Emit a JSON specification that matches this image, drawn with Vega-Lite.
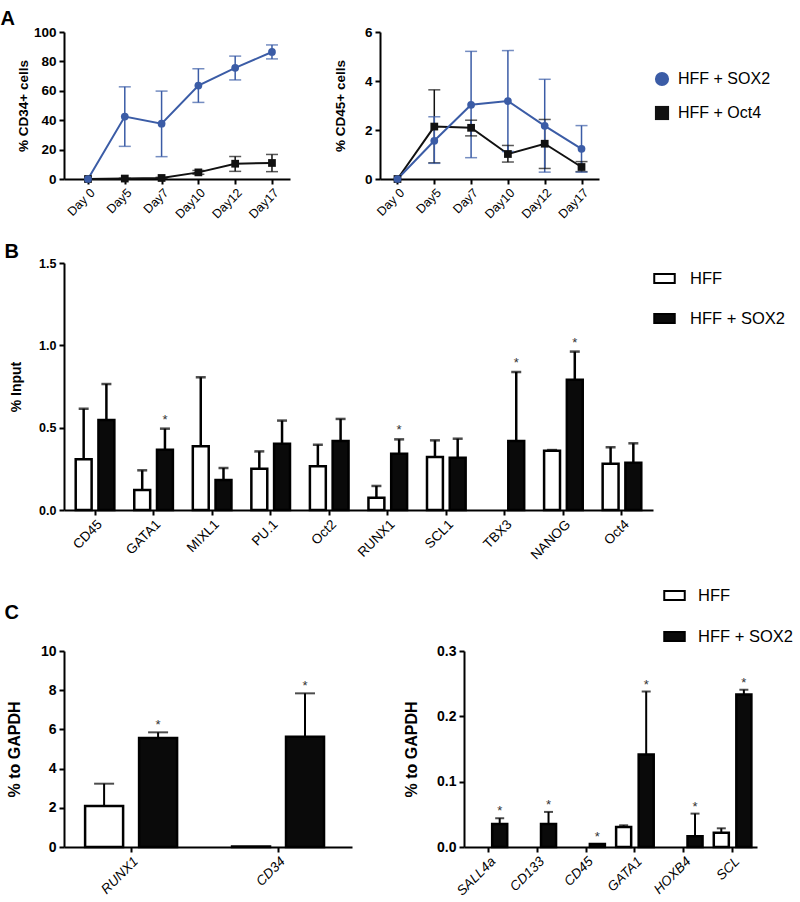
{
"$schema": "https://vega.github.io/schema/vega-lite/v6.json",
"background": "white",
"padding": {"left": 0, "top": 9, "right": 5, "bottom": 5},
"config": {
  "font": "Liberation Sans",
  "view": {"stroke": null},
  "legend": {"labelColor": "black", "labelFontSize": 16.5, "padding": 0, "title": null}
},
"datasets": {
  "A": [
    {"panel": "CD34", "series": "HFF + Oct4", "day": "Day 0", "mean": 0, "lo": null, "hi": null},
    {"panel": "CD34", "series": "HFF + Oct4", "day": "Day5", "mean": 0.3, "lo": 0.1, "hi": 0.5},
    {"panel": "CD34", "series": "HFF + Oct4", "day": "Day7", "mean": 0.7, "lo": 0.3, "hi": 1.1},
    {"panel": "CD34", "series": "HFF + Oct4", "day": "Day10", "mean": 4.5, "lo": 3.2, "hi": 5.8},
    {"panel": "CD34", "series": "HFF + Oct4", "day": "Day12", "mean": 10.4, "lo": 5.2, "hi": 15.3},
    {"panel": "CD34", "series": "HFF + Oct4", "day": "Day17", "mean": 10.9, "lo": 5.0, "hi": 16.7},
    {"panel": "CD34", "series": "HFF + SOX2", "day": "Day 0", "mean": 0, "lo": null, "hi": null},
    {"panel": "CD34", "series": "HFF + SOX2", "day": "Day5", "mean": 42.5, "lo": 22.2, "hi": 62.7},
    {"panel": "CD34", "series": "HFF + SOX2", "day": "Day7", "mean": 37.6, "lo": 15.2, "hi": 59.8},
    {"panel": "CD34", "series": "HFF + SOX2", "day": "Day10", "mean": 63.6, "lo": 52.1, "hi": 75.0},
    {"panel": "CD34", "series": "HFF + SOX2", "day": "Day12", "mean": 75.6, "lo": 67.4, "hi": 83.6},
    {"panel": "CD34", "series": "HFF + SOX2", "day": "Day17", "mean": 86.4, "lo": 81.7, "hi": 91.2},
    {"panel": "CD45", "series": "HFF + Oct4", "day": "Day 0", "mean": 0, "lo": null, "hi": null},
    {"panel": "CD45", "series": "HFF + Oct4", "day": "Day5", "mean": 2.14, "lo": 0.66, "hi": 3.64},
    {"panel": "CD45", "series": "HFF + Oct4", "day": "Day7", "mean": 2.09, "lo": 1.76, "hi": 2.40},
    {"panel": "CD45", "series": "HFF + Oct4", "day": "Day10", "mean": 1.02, "lo": 0.69, "hi": 1.37},
    {"panel": "CD45", "series": "HFF + Oct4", "day": "Day12", "mean": 1.44, "lo": 0.43, "hi": 2.43},
    {"panel": "CD45", "series": "HFF + Oct4", "day": "Day17", "mean": 0.49, "lo": 0.30, "hi": 0.71},
    {"panel": "CD45", "series": "HFF + SOX2", "day": "Day 0", "mean": 0, "lo": null, "hi": null},
    {"panel": "CD45", "series": "HFF + SOX2", "day": "Day5", "mean": 1.56, "lo": 0.64, "hi": 2.54},
    {"panel": "CD45", "series": "HFF + SOX2", "day": "Day7", "mean": 3.03, "lo": 0.87, "hi": 5.21},
    {"panel": "CD45", "series": "HFF + SOX2", "day": "Day10", "mean": 3.18, "lo": 1.12, "hi": 5.24},
    {"panel": "CD45", "series": "HFF + SOX2", "day": "Day12", "mean": 2.17, "lo": 0.28, "hi": 4.07},
    {"panel": "CD45", "series": "HFF + SOX2", "day": "Day17", "mean": 1.23, "lo": 0.28, "hi": 2.18}
  ],
  "B": [
    {"gene": "CD45", "group": "HFF", "mean": 0.308, "hi": 0.615, "sig": ""},
    {"gene": "CD45", "group": "HFF + SOX2", "mean": 0.547, "hi": 0.765, "sig": ""},
    {"gene": "GATA1", "group": "HFF", "mean": 0.121, "hi": 0.241, "sig": ""},
    {"gene": "GATA1", "group": "HFF + SOX2", "mean": 0.366, "hi": 0.494, "sig": "*"},
    {"gene": "MIXL1", "group": "HFF", "mean": 0.387, "hi": 0.806, "sig": ""},
    {"gene": "MIXL1", "group": "HFF + SOX2", "mean": 0.182, "hi": 0.255, "sig": ""},
    {"gene": "PU.1", "group": "HFF", "mean": 0.251, "hi": 0.356, "sig": ""},
    {"gene": "PU.1", "group": "HFF + SOX2", "mean": 0.403, "hi": 0.543, "sig": ""},
    {"gene": "Oct2", "group": "HFF", "mean": 0.265, "hi": 0.397, "sig": ""},
    {"gene": "Oct2", "group": "HFF + SOX2", "mean": 0.419, "hi": 0.553, "sig": ""},
    {"gene": "RUNX1", "group": "HFF", "mean": 0.075, "hi": 0.146, "sig": ""},
    {"gene": "RUNX1", "group": "HFF + SOX2", "mean": 0.342, "hi": 0.429, "sig": "*"},
    {"gene": "SCL1", "group": "HFF", "mean": 0.322, "hi": 0.423, "sig": ""},
    {"gene": "SCL1", "group": "HFF + SOX2", "mean": 0.318, "hi": 0.433, "sig": ""},
    {"gene": "TBX3", "group": "HFF + SOX2", "mean": 0.419, "hi": 0.838, "sig": "*"},
    {"gene": "NANOG", "group": "HFF", "mean": 0.360, "hi": 0.364, "sig": ""},
    {"gene": "NANOG", "group": "HFF + SOX2", "mean": 0.791, "hi": 0.962, "sig": "*"},
    {"gene": "Oct4", "group": "HFF", "mean": 0.281, "hi": 0.381, "sig": ""},
    {"gene": "Oct4", "group": "HFF + SOX2", "mean": 0.287, "hi": 0.405, "sig": ""}
  ],
  "C1": [
    {"gene": "RUNX1", "group": "HFF", "mean": 2.09, "hi": 3.23, "sig": ""},
    {"gene": "RUNX1", "group": "HFF + SOX2", "mean": 5.56, "hi": 5.85, "sig": "*"},
    {"gene": "CD34", "group": "HFF", "mean": 0.03, "hi": null, "sig": ""},
    {"gene": "CD34", "group": "HFF + SOX2", "mean": 5.63, "hi": 7.84, "sig": "*"}
  ],
  "C2": [
    {"gene": "SALL4a", "group": "HFF + SOX2", "mean": 0.0353, "hi": 0.044, "sig": "*"},
    {"gene": "CD133", "group": "HFF + SOX2", "mean": 0.0353, "hi": 0.0537, "sig": "*"},
    {"gene": "CD45", "group": "HFF + SOX2", "mean": 0.0046, "hi": 0.0046, "sig": "*"},
    {"gene": "GATA1", "group": "HFF", "mean": 0.0307, "hi": 0.0332, "sig": ""},
    {"gene": "GATA1", "group": "HFF + SOX2", "mean": 0.1416, "hi": 0.238, "sig": "*"},
    {"gene": "HOXB4", "group": "HFF + SOX2", "mean": 0.0164, "hi": 0.0511, "sig": "*"},
    {"gene": "SCL", "group": "HFF", "mean": 0.022, "hi": 0.0286, "sig": ""},
    {"gene": "SCL", "group": "HFF + SOX2", "mean": 0.2336, "hi": 0.2407, "sig": "*"}
  ]
},
"resolve": {"scale": {"fill": "independent", "color": "independent", "shape": "independent", "xOffset": "independent"}, "legend": {"fill": "independent", "color": "independent", "shape": "independent"}},
"spacing": 21,
"align": "none",
"vconcat": [
  {
    "title": {"text": "A", "dx": -16, "offset": -4, "fontSize": 20, "fontWeight": "bold", "anchor": "start", "color": "black", "font": "Liberation Sans"},
    "spacing": 43,
    "resolve": {"scale": {"fill": "independent", "color": "independent", "shape": "independent"}, "legend": {"fill": "independent", "color": "independent", "shape": "independent"}},
    "hconcat": [
      {
        "width": 226, "height": 147,
        "data": {"name": "A"},
        "transform": [{"filter": "datum.panel == 'CD34'"}],
        "encoding": {"x": {"field": "day", "type": "ordinal", "sort": null, "scale": {"type": "point", "padding": 0.571, "align": 0.571},
          "axis": {"title": null, "labelAngle": -45, "labelFontWeight": "normal", "labelFontSize": 12.5, "labelColor": "black", "domainColor": "black", "domainWidth": 2, "tickColor": "black", "tickWidth": 2, "tickSize": 5, "labelPadding": 2, "labelOverlap": false, "grid": false}}},
        "layer": [
          {"mark": {"type": "line", "strokeWidth": 2},
           "encoding": {"y": {"field": "mean", "type": "quantitative", "title": "% CD34+ cells", "scale": {"domain": [0, 100], "nice": false},
              "axis": {"values": [0, 20, 40, 60, 80, 100], "titlePadding": 3, "labelFontSize": 13.5, "labelFontWeight": "bold", "titleFontSize": 13.5, "titleFontWeight": "bold", "labelColor": "black", "titleColor": "black", "domainColor": "black", "domainWidth": 2, "tickColor": "black", "tickWidth": 2, "tickSize": 5, "labelPadding": 3, "labelOverlap": false, "labelFlush": false, "grid": false}},
                        "color": {"field": "series", "type": "nominal", "scale": {"domain": ["HFF + SOX2", "HFF + Oct4"], "range": ["#3B5CA6", "#111111"]}, "legend": null}}},
          {"mark": {"type": "rule", "strokeWidth": 1.5},
           "encoding": {"y": {"field": "lo", "type": "quantitative", "title": "% CD34+ cells",
              "axis": {"values": [0, 20, 40, 60, 80, 100], "titlePadding": 3, "labelFontSize": 13.5, "labelFontWeight": "bold", "titleFontSize": 13.5, "titleFontWeight": "bold", "labelColor": "black", "titleColor": "black", "domainColor": "black", "domainWidth": 2, "tickColor": "black", "tickWidth": 2, "tickSize": 5, "labelPadding": 3, "labelOverlap": false, "labelFlush": false, "grid": false}}, "y2": {"field": "hi"},
                        "color": {"field": "series", "type": "nominal", "legend": null}}},
          {"mark": {"type": "tick", "thickness": 1.5, "size": 12},
           "encoding": {"y": {"field": "lo", "type": "quantitative", "title": "% CD34+ cells",
              "axis": {"values": [0, 20, 40, 60, 80, 100], "titlePadding": 3, "labelFontSize": 13.5, "labelFontWeight": "bold", "titleFontSize": 13.5, "titleFontWeight": "bold", "labelColor": "black", "titleColor": "black", "domainColor": "black", "domainWidth": 2, "tickColor": "black", "tickWidth": 2, "tickSize": 5, "labelPadding": 3, "labelOverlap": false, "labelFlush": false, "grid": false}}, "color": {"field": "series", "type": "nominal", "legend": null}}},
          {"mark": {"type": "tick", "thickness": 1.5, "size": 12},
           "encoding": {"y": {"field": "hi", "type": "quantitative", "title": "% CD34+ cells",
              "axis": {"values": [0, 20, 40, 60, 80, 100], "titlePadding": 3, "labelFontSize": 13.5, "labelFontWeight": "bold", "titleFontSize": 13.5, "titleFontWeight": "bold", "labelColor": "black", "titleColor": "black", "domainColor": "black", "domainWidth": 2, "tickColor": "black", "tickWidth": 2, "tickSize": 5, "labelPadding": 3, "labelOverlap": false, "labelFlush": false, "grid": false}}, "color": {"field": "series", "type": "nominal", "legend": null}}},
          {"mark": {"type": "point", "filled": true, "opacity": 1, "size": 60},
           "encoding": {"y": {"field": "mean", "type": "quantitative", "title": "% CD34+ cells",
              "axis": {"values": [0, 20, 40, 60, 80, 100], "titlePadding": 3, "labelFontSize": 13.5, "labelFontWeight": "bold", "titleFontSize": 13.5, "titleFontWeight": "bold", "labelColor": "black", "titleColor": "black", "domainColor": "black", "domainWidth": 2, "tickColor": "black", "tickWidth": 2, "tickSize": 5, "labelPadding": 3, "labelOverlap": false, "labelFlush": false, "grid": false}},
                        "fill": {"field": "series", "type": "nominal", "scale": {"domain": ["HFF + SOX2", "HFF + Oct4"], "range": ["#3B5CA6", "#111111"]}, "legend": null},
                        "shape": {"field": "series", "type": "nominal", "scale": {"domain": ["HFF + SOX2", "HFF + Oct4"], "range": ["circle", "square"]}, "legend": null}}}
        ]
      },
      {
        "width": 219, "height": 147,
        "data": {"name": "A"},
        "transform": [{"filter": "datum.panel == 'CD45'"}],
        "encoding": {"x": {"field": "day", "type": "ordinal", "sort": null, "scale": {"type": "point", "padding": 0.475},
          "axis": {"title": null, "labelAngle": -45, "labelFontWeight": "normal", "labelFontSize": 12.5, "labelColor": "black", "domainColor": "black", "domainWidth": 2, "tickColor": "black", "tickWidth": 2, "tickSize": 5, "labelPadding": 2, "labelOverlap": false, "grid": false}}},
        "layer": [
          {"mark": {"type": "line", "strokeWidth": 2},
           "encoding": {"y": {"field": "mean", "type": "quantitative", "title": "% CD45+ cells", "scale": {"domain": [0, 6], "nice": false},
              "axis": {"values": [0, 2, 4, 6], "titlePadding": 17, "labelFontSize": 13.5, "labelFontWeight": "bold", "titleFontSize": 13.5, "titleFontWeight": "bold", "labelColor": "black", "titleColor": "black", "domainColor": "black", "domainWidth": 2, "tickColor": "black", "tickWidth": 2, "tickSize": 5, "labelPadding": 3, "labelOverlap": false, "labelFlush": false, "grid": false}},
                        "color": {"field": "series", "type": "nominal", "scale": {"domain": ["HFF + SOX2", "HFF + Oct4"], "range": ["#3B5CA6", "#111111"]},
                                  "legend": {"orient": "none", "legendX": 274, "legendY": 39, "labelFontSize": 16, "symbolSize": 200, "rowPadding": 18, "labelOffset": 8, "symbolStrokeWidth": 0, "symbolOpacity": 1, "title": null, "labelColor": "black", "encode": {"symbols": {"update": {"opacity": {"value": 1}, "fillOpacity": {"value": 1}}}}}}}},
          {"mark": {"type": "rule", "strokeWidth": 1.5},
           "encoding": {"y": {"field": "lo", "type": "quantitative", "title": "% CD45+ cells",
              "axis": {"values": [0, 2, 4, 6], "titlePadding": 17, "labelFontSize": 13.5, "labelFontWeight": "bold", "titleFontSize": 13.5, "titleFontWeight": "bold", "labelColor": "black", "titleColor": "black", "domainColor": "black", "domainWidth": 2, "tickColor": "black", "tickWidth": 2, "tickSize": 5, "labelPadding": 3, "labelOverlap": false, "labelFlush": false, "grid": false}}, "y2": {"field": "hi"},
                        "color": {"field": "series", "type": "nominal"}}},
          {"mark": {"type": "tick", "thickness": 1.5, "size": 12},
           "encoding": {"y": {"field": "lo", "type": "quantitative", "title": "% CD45+ cells",
              "axis": {"values": [0, 2, 4, 6], "titlePadding": 17, "labelFontSize": 13.5, "labelFontWeight": "bold", "titleFontSize": 13.5, "titleFontWeight": "bold", "labelColor": "black", "titleColor": "black", "domainColor": "black", "domainWidth": 2, "tickColor": "black", "tickWidth": 2, "tickSize": 5, "labelPadding": 3, "labelOverlap": false, "labelFlush": false, "grid": false}}, "color": {"field": "series", "type": "nominal"}}},
          {"mark": {"type": "tick", "thickness": 1.5, "size": 12},
           "encoding": {"y": {"field": "hi", "type": "quantitative", "title": "% CD45+ cells",
              "axis": {"values": [0, 2, 4, 6], "titlePadding": 17, "labelFontSize": 13.5, "labelFontWeight": "bold", "titleFontSize": 13.5, "titleFontWeight": "bold", "labelColor": "black", "titleColor": "black", "domainColor": "black", "domainWidth": 2, "tickColor": "black", "tickWidth": 2, "tickSize": 5, "labelPadding": 3, "labelOverlap": false, "labelFlush": false, "grid": false}}, "color": {"field": "series", "type": "nominal"}}},
          {"mark": {"type": "point", "filled": true, "opacity": 1, "size": 60},
           "encoding": {"y": {"field": "mean", "type": "quantitative", "title": "% CD45+ cells",
              "axis": {"values": [0, 2, 4, 6], "titlePadding": 17, "labelFontSize": 13.5, "labelFontWeight": "bold", "titleFontSize": 13.5, "titleFontWeight": "bold", "labelColor": "black", "titleColor": "black", "domainColor": "black", "domainWidth": 2, "tickColor": "black", "tickWidth": 2, "tickSize": 5, "labelPadding": 3, "labelOverlap": false, "labelFlush": false, "grid": false}},
                        "fill": {"field": "series", "type": "nominal", "scale": {"domain": ["HFF + SOX2", "HFF + Oct4"], "range": ["#3B5CA6", "#111111"]},
                                 "legend": {"orient": "none", "legendX": 274, "legendY": 39, "labelFontSize": 16, "symbolSize": 200, "rowPadding": 18, "labelOffset": 8, "symbolStrokeWidth": 0, "symbolOpacity": 1, "title": null, "labelColor": "black", "encode": {"symbols": {"update": {"opacity": {"value": 1}, "fillOpacity": {"value": 1}}}}}},
                        "shape": {"field": "series", "type": "nominal", "scale": {"domain": ["HFF + SOX2", "HFF + Oct4"], "range": ["circle", "square"]},
                                 "legend": {"orient": "none", "legendX": 274, "legendY": 39, "labelFontSize": 16, "symbolSize": 200, "rowPadding": 18, "labelOffset": 8, "symbolStrokeWidth": 0, "symbolOpacity": 1, "title": null, "labelColor": "black", "encode": {"symbols": {"update": {"opacity": {"value": 1}, "fillOpacity": {"value": 1}}}}}}}}
        ]
      }
    ]
  },
  {
    "spacing": 22,
    "align": "none",
    "resolve": {"scale": {"fill": "independent", "color": "independent", "shape": "independent", "xOffset": "independent"}, "legend": {"fill": "independent", "color": "independent", "shape": "independent"}},
    "vconcat": [
      {
        "title": {"text": "B", "dx": -5, "offset": -5, "fontSize": 20, "fontWeight": "bold", "anchor": "start", "color": "black", "font": "Liberation Sans"},
        "width": 589, "height": 247,
        "data": {"name": "B"},
        "encoding": {
          "x": {"field": "gene", "type": "nominal", "sort": null, "scale": {"paddingInner": 0.34, "paddingOuter": 0.2},
            "axis": {"title": null, "labelAngle": -45, "labelFontWeight": "normal", "labelFontSize": 13.5, "labelColor": "black", "domainColor": "black", "domainWidth": 2, "tickColor": "black", "tickWidth": 2, "tickSize": 5, "labelPadding": 2, "labelOverlap": false, "grid": false}},
          "xOffset": {"field": "group", "type": "nominal", "scale": {"domain": ["HFF", "HFF + SOX2"], "paddingInner": 0.3, "paddingOuter": 0}}
        },
        "layer": [
          {"mark": {"type": "rule", "strokeWidth": 2.5, "color": "black"},
           "encoding": {"y": {"field": "mean", "type": "quantitative", "title": "% Input",
              "axis": {"values": [0, 0.5, 1, 1.5], "format": ".1f", "titlePadding": 15, "labelFontSize": 12.5, "labelFontWeight": "bold", "titleFontSize": 14, "titleFontWeight": "bold", "labelColor": "black", "titleColor": "black", "domainColor": "black", "domainWidth": 2, "tickColor": "black", "tickWidth": 2, "tickSize": 5, "labelPadding": 3, "labelOverlap": false, "labelFlush": false, "grid": false}}, "y2": {"field": "hi"}}},
          {"mark": {"type": "bar", "stroke": "black", "strokeWidth": 2.5},
           "encoding": {"y": {"field": "mean", "type": "quantitative", "title": "% Input", "scale": {"domain": [0, 1.5], "nice": false},
              "axis": {"values": [0, 0.5, 1, 1.5], "format": ".1f", "titlePadding": 15, "labelFontSize": 12.5, "labelFontWeight": "bold", "titleFontSize": 14, "titleFontWeight": "bold", "labelColor": "black", "titleColor": "black", "domainColor": "black", "domainWidth": 2, "tickColor": "black", "tickWidth": 2, "tickSize": 5, "labelPadding": 3, "labelOverlap": false, "labelFlush": false, "grid": false}},
                        "fill": {"field": "group", "type": "nominal", "scale": {"domain": ["HFF", "HFF + SOX2"], "range": ["white", "#0a0a0a"]},
                                 "legend": {"orient": "none", "legendX": 589, "legendY": 4, "labelFontSize": 16.5, "symbolType": "M-1,-0.45H1V0.45H-1Z", "symbolSize": 420, "symbolStrokeColor": "black", "symbolStrokeWidth": 2, "rowPadding": 19, "labelOffset": 14, "title": null, "labelColor": "black"}}}},
          {"mark": {"type": "tick", "thickness": 2.5, "size": 10, "color": "black"},
           "encoding": {"y": {"field": "hi", "type": "quantitative", "title": "% Input",
              "axis": {"values": [0, 0.5, 1, 1.5], "format": ".1f", "titlePadding": 15, "labelFontSize": 12.5, "labelFontWeight": "bold", "titleFontSize": 14, "titleFontWeight": "bold", "labelColor": "black", "titleColor": "black", "domainColor": "black", "domainWidth": 2, "tickColor": "black", "tickWidth": 2, "tickSize": 5, "labelPadding": 3, "labelOverlap": false, "labelFlush": false, "grid": false}}}},
          {"mark": {"type": "text", "dy": -9, "fontSize": 13, "baseline": "middle", "color": "#333333"},
           "encoding": {"y": {"field": "hi", "type": "quantitative", "title": "% Input",
              "axis": {"values": [0, 0.5, 1, 1.5], "format": ".1f", "titlePadding": 15, "labelFontSize": 12.5, "labelFontWeight": "bold", "titleFontSize": 14, "titleFontWeight": "bold", "labelColor": "black", "titleColor": "black", "domainColor": "black", "domainWidth": 2, "tickColor": "black", "tickWidth": 2, "tickSize": 5, "labelPadding": 3, "labelOverlap": false, "labelFlush": false, "grid": false}}, "text": {"field": "sig"}}}
        ]
      },
      {
        "title": {"text": "C", "dx": -2, "offset": -39, "fontSize": 20, "fontWeight": "bold", "anchor": "start", "color": "black", "font": "Liberation Sans"},
        "spacing": 51,
        "resolve": {"scale": {"fill": "independent", "color": "independent", "shape": "independent", "xOffset": "independent"}, "legend": {"fill": "independent", "color": "independent", "shape": "independent"}},
        "hconcat": [
          {
            "width": 288, "height": 196,
            "data": {"name": "C1"},
            "encoding": {
              "x": {"field": "gene", "type": "nominal", "sort": null, "scale": {"paddingInner": 0.374, "paddingOuter": 0.167, "align": 0.43},
                "axis": {"title": null, "labelAngle": -45, "labelFontWeight": "normal", "labelFontStyle": "italic", "labelFontSize": 13.5, "labelColor": "black", "domainColor": "black", "domainWidth": 2, "tickColor": "black", "tickWidth": 2, "tickSize": 5, "labelPadding": 2, "labelOverlap": false, "grid": false}},
              "xOffset": {"field": "group", "type": "nominal", "scale": {"domain": ["HFF", "HFF + SOX2"], "paddingInner": 0.296, "paddingOuter": 0}}
            },
            "layer": [
              {"mark": {"type": "rule", "strokeWidth": 2, "color": "black"},
               "encoding": {"y": {"field": "mean", "type": "quantitative", "title": "% to GAPDH",
                  "axis": {"values": [0, 2, 4, 6, 8, 10], "titlePadding": 18, "labelFontSize": 14, "labelFontWeight": "bold", "titleFontSize": 16, "titleFontWeight": "bold", "labelColor": "black", "titleColor": "black", "domainColor": "black", "domainWidth": 2, "tickColor": "black", "tickWidth": 2, "tickSize": 5, "labelPadding": 3, "labelOverlap": false, "labelFlush": false, "grid": false}}, "y2": {"field": "hi"}}},
              {"mark": {"type": "bar", "stroke": "black", "strokeWidth": 2.5},
               "encoding": {"y": {"field": "mean", "type": "quantitative", "title": "% to GAPDH", "scale": {"domain": [0, 10], "nice": false},
                  "axis": {"values": [0, 2, 4, 6, 8, 10], "titlePadding": 18, "labelFontSize": 14, "labelFontWeight": "bold", "titleFontSize": 16, "titleFontWeight": "bold", "labelColor": "black", "titleColor": "black", "domainColor": "black", "domainWidth": 2, "tickColor": "black", "tickWidth": 2, "tickSize": 5, "labelPadding": 3, "labelOverlap": false, "labelFlush": false, "grid": false}},
                            "fill": {"field": "group", "type": "nominal", "scale": {"domain": ["HFF", "HFF + SOX2"], "range": ["white", "#0a0a0a"]}, "legend": null}}},
              {"mark": {"type": "tick", "thickness": 2, "size": 20, "color": "black"},
               "encoding": {"y": {"field": "hi", "type": "quantitative", "title": "% to GAPDH",
                  "axis": {"values": [0, 2, 4, 6, 8, 10], "titlePadding": 18, "labelFontSize": 14, "labelFontWeight": "bold", "titleFontSize": 16, "titleFontWeight": "bold", "labelColor": "black", "titleColor": "black", "domainColor": "black", "domainWidth": 2, "tickColor": "black", "tickWidth": 2, "tickSize": 5, "labelPadding": 3, "labelOverlap": false, "labelFlush": false, "grid": false}}}},
              {"mark": {"type": "text", "dy": -7, "fontSize": 13, "baseline": "middle", "color": "#333333"},
               "encoding": {"y": {"field": "hi", "type": "quantitative", "title": "% to GAPDH",
                  "axis": {"values": [0, 2, 4, 6, 8, 10], "titlePadding": 18, "labelFontSize": 14, "labelFontWeight": "bold", "titleFontSize": 16, "titleFontWeight": "bold", "labelColor": "black", "titleColor": "black", "domainColor": "black", "domainWidth": 2, "tickColor": "black", "tickWidth": 2, "tickSize": 5, "labelPadding": 3, "labelOverlap": false, "labelFlush": false, "grid": false}}, "text": {"field": "sig"}}}
            ]
          },
          {
            "width": 293, "height": 196,
            "data": {"name": "C2"},
            "encoding": {
              "x": {"field": "gene", "type": "nominal", "sort": ["SALL4a", "CD133", "CD45", "GATA1", "HOXB4", "SCL"], "scale": {"paddingInner": 0.23, "paddingOuter": 0.115},
                "axis": {"title": null, "labelAngle": -45, "labelFontWeight": "normal", "labelFontStyle": "italic", "labelFontSize": 13.5, "labelColor": "black", "domainColor": "black", "domainWidth": 2, "tickColor": "black", "tickWidth": 2, "tickSize": 5, "labelPadding": 2, "labelOverlap": false, "grid": false}},
              "xOffset": {"field": "group", "type": "nominal", "scale": {"domain": ["HFF", "HFF + SOX2"], "paddingInner": 0.333, "paddingOuter": 0}}
            },
            "layer": [
              {"mark": {"type": "rule", "strokeWidth": 2, "color": "black"},
               "encoding": {"y": {"field": "mean", "type": "quantitative", "title": "% to GAPDH",
                  "axis": {"values": [0, 0.1, 0.2, 0.3], "format": ".1f", "titlePadding": 17, "labelFontSize": 14, "labelFontWeight": "bold", "titleFontSize": 16, "titleFontWeight": "bold", "labelColor": "black", "titleColor": "black", "domainColor": "black", "domainWidth": 2, "tickColor": "black", "tickWidth": 2, "tickSize": 5, "labelPadding": 3, "labelOverlap": false, "labelFlush": false, "grid": false}}, "y2": {"field": "hi"}}},
              {"mark": {"type": "bar", "stroke": "black", "strokeWidth": 2.5},
               "encoding": {"y": {"field": "mean", "type": "quantitative", "title": "% to GAPDH", "scale": {"domain": [0, 0.3], "nice": false},
                  "axis": {"values": [0, 0.1, 0.2, 0.3], "format": ".1f", "titlePadding": 17, "labelFontSize": 14, "labelFontWeight": "bold", "titleFontSize": 16, "titleFontWeight": "bold", "labelColor": "black", "titleColor": "black", "domainColor": "black", "domainWidth": 2, "tickColor": "black", "tickWidth": 2, "tickSize": 5, "labelPadding": 3, "labelOverlap": false, "labelFlush": false, "grid": false}},
                            "fill": {"field": "group", "type": "nominal", "scale": {"domain": ["HFF", "HFF + SOX2"], "range": ["white", "#0a0a0a"]},
                                     "legend": {"orient": "none", "legendX": 199, "legendY": -67, "labelFontSize": 16.5, "symbolType": "M-1,-0.45H1V0.45H-1Z", "symbolSize": 420, "symbolStrokeColor": "black", "symbolStrokeWidth": 2, "rowPadding": 20, "labelOffset": 12, "title": null, "labelColor": "black"}}}},
              {"mark": {"type": "tick", "thickness": 2, "size": 9, "color": "black"},
               "encoding": {"y": {"field": "hi", "type": "quantitative", "title": "% to GAPDH",
                  "axis": {"values": [0, 0.1, 0.2, 0.3], "format": ".1f", "titlePadding": 17, "labelFontSize": 14, "labelFontWeight": "bold", "titleFontSize": 16, "titleFontWeight": "bold", "labelColor": "black", "titleColor": "black", "domainColor": "black", "domainWidth": 2, "tickColor": "black", "tickWidth": 2, "tickSize": 5, "labelPadding": 3, "labelOverlap": false, "labelFlush": false, "grid": false}}}},
              {"mark": {"type": "text", "dy": -7, "fontSize": 13, "baseline": "middle", "color": "#333333"},
               "encoding": {"y": {"field": "hi", "type": "quantitative", "title": "% to GAPDH",
                  "axis": {"values": [0, 0.1, 0.2, 0.3], "format": ".1f", "titlePadding": 17, "labelFontSize": 14, "labelFontWeight": "bold", "titleFontSize": 16, "titleFontWeight": "bold", "labelColor": "black", "titleColor": "black", "domainColor": "black", "domainWidth": 2, "tickColor": "black", "tickWidth": 2, "tickSize": 5, "labelPadding": 3, "labelOverlap": false, "labelFlush": false, "grid": false}}, "text": {"field": "sig"}}}
            ]
          }
        ]
      }
    ]
  }
]
}
